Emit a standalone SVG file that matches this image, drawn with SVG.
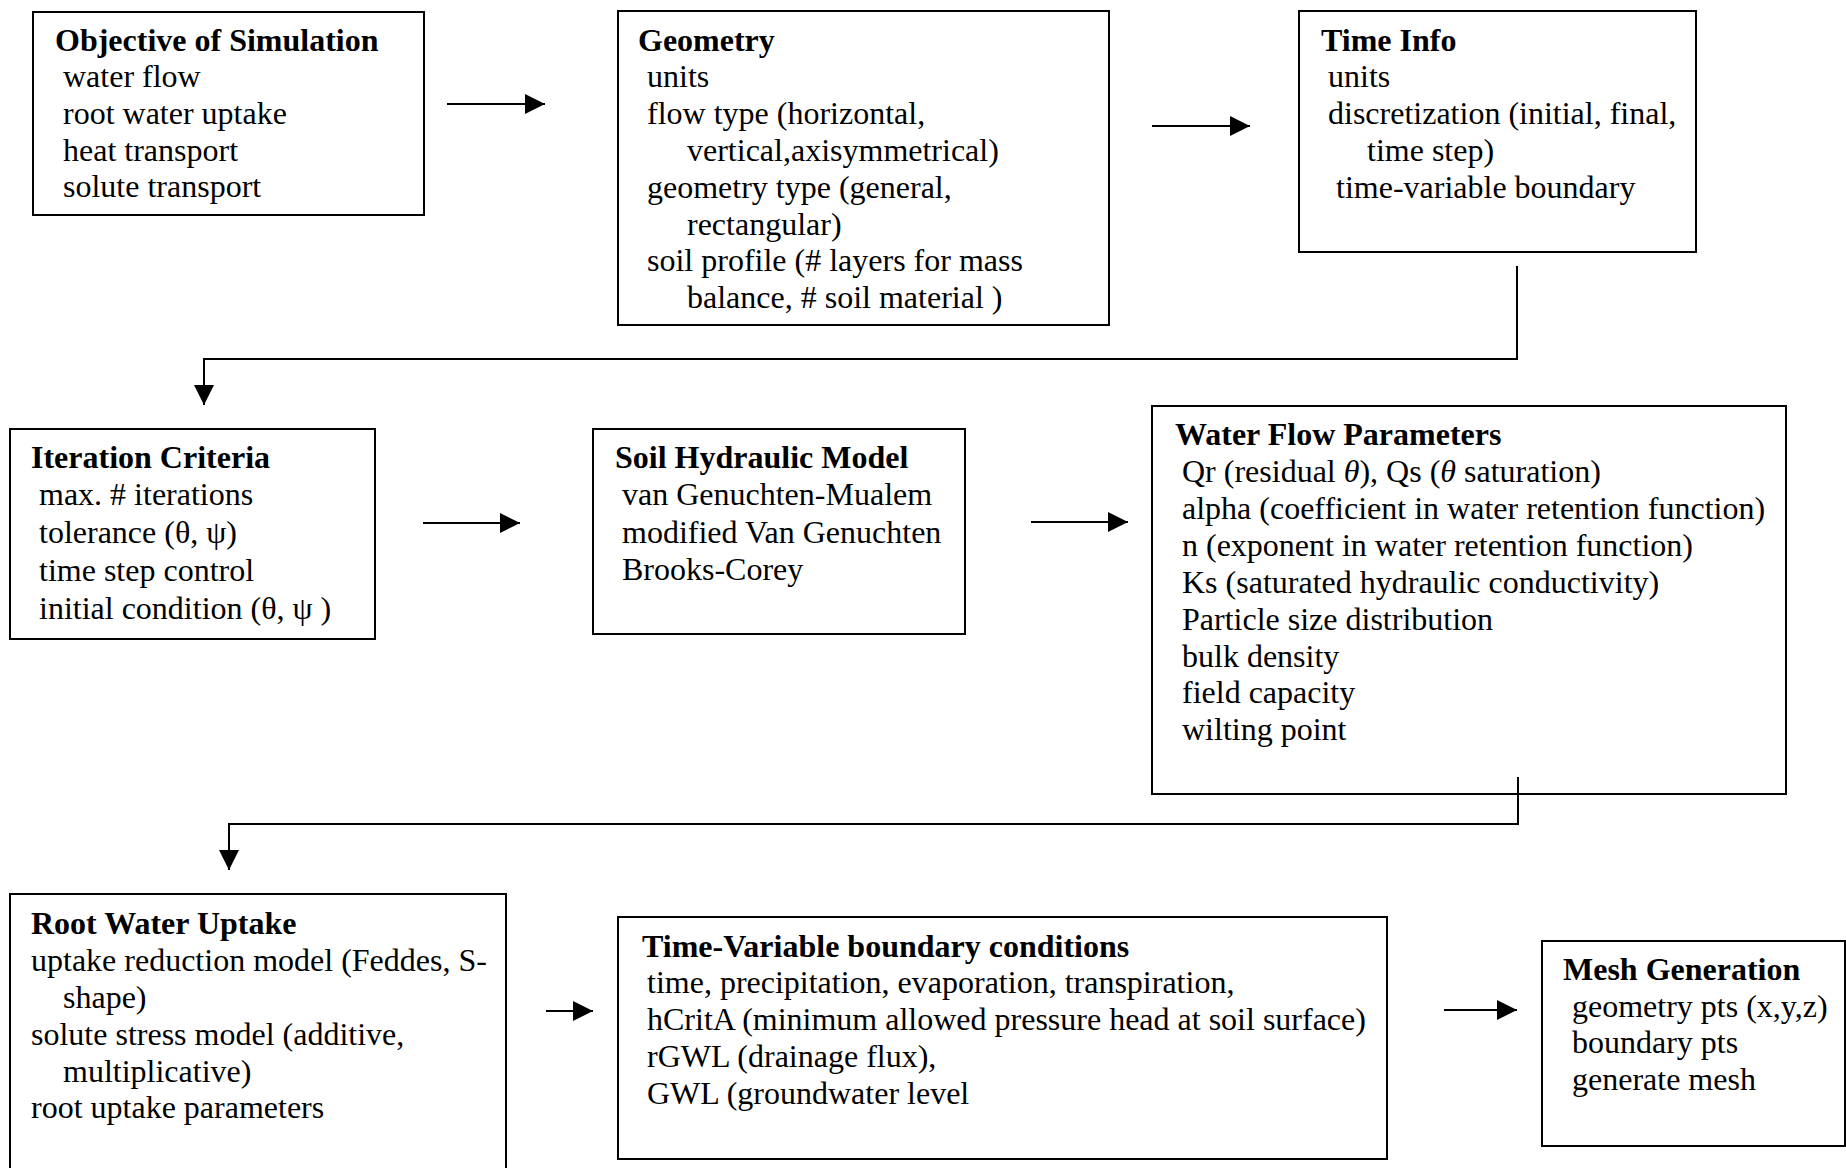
<svg xmlns="http://www.w3.org/2000/svg" width="1846" height="1168" viewBox="0 0 1846 1168">
<style>
.box{fill:#fff;stroke:#000;stroke-width:2}
text{font-family:"Liberation Serif","Times New Roman",serif;font-size:32px;fill:#000}
.t{font-weight:bold}
.c{fill:none;stroke:#000;stroke-width:2}
</style>
<defs>
<marker id="ah" markerUnits="userSpaceOnUse" markerWidth="20" markerHeight="20" refX="20" refY="10" orient="auto">
<path d="M0,0 L20,10 L0,20 z" fill="#000"/>
</marker>
</defs>
<rect width="1846" height="1168" fill="#fff"/>
<g id="objective">
<rect class="box" x="33" y="12" width="391" height="203"/>
<text class="t" x="55" y="51">Objective of Simulation</text>
<text x="63" y="87">water flow</text>
<text x="63" y="124">root water uptake</text>
<text x="63" y="161">heat transport</text>
<text x="63" y="197">solute transport</text>
</g>
<g id="geometry">
<rect class="box" x="618" y="11" width="491" height="314"/>
<text class="t" x="638" y="51">Geometry</text>
<text x="647" y="87">units</text>
<text x="647" y="124">flow type (horizontal,</text>
<text x="687" y="161">vertical,axisymmetrical)</text>
<text x="647" y="198">geometry type (general,</text>
<text x="687" y="235">rectangular)</text>
<text x="647" y="271">soil profile (# layers for mass</text>
<text x="687" y="308">balance, # soil material )</text>
</g>
<g id="timeinfo">
<rect class="box" x="1299" y="11" width="397" height="241"/>
<text class="t" x="1321" y="51">Time Info</text>
<text x="1328" y="87">units</text>
<text x="1328" y="124">discretization (initial, final,</text>
<text x="1367" y="161">time step)</text>
<text x="1336" y="198">time-variable boundary</text>
</g>
<g id="iteration">
<rect class="box" x="10" y="429" width="365" height="210"/>
<text class="t" x="31" y="468">Iteration Criteria</text>
<text x="39" y="505">max. # iterations</text>
<text x="39" y="543">tolerance (θ, ψ)</text>
<text x="39" y="581">time step control</text>
<text x="39" y="619">initial condition (θ, ψ )</text>
</g>
<g id="soilhydraulic">
<rect class="box" x="593" y="429" width="372" height="205"/>
<text class="t" x="615" y="468">Soil Hydraulic Model</text>
<text x="622" y="505">van Genuchten-Mualem</text>
<text x="622" y="543">modified Van Genuchten</text>
<text x="622" y="580">Brooks-Corey</text>
</g>
<g id="waterflow">
<rect class="box" x="1152" y="406" width="634" height="388"/>
<text class="t" x="1175" y="445">Water Flow Parameters</text>
<text x="1182" y="482">Qr (residual <tspan font-style="italic">θ</tspan>), Qs (<tspan font-style="italic">θ</tspan> saturation)</text>
<text x="1182" y="519">alpha (coefficient in water retention function)</text>
<text x="1182" y="556">n (exponent in water retention function)</text>
<text x="1182" y="593">Ks (saturated hydraulic conductivity)</text>
<text x="1182" y="630">Particle size distribution</text>
<text x="1182" y="667">bulk density</text>
<text x="1182" y="703">field capacity</text>
<text x="1182" y="740">wilting point</text>
</g>
<g id="rootwater">
<rect class="box" x="10" y="894" width="496" height="290"/>
<text class="t" x="31" y="934">Root Water Uptake</text>
<text x="31" y="971">uptake reduction model (Feddes, S-</text>
<text x="63" y="1008">shape)</text>
<text x="31" y="1045">solute stress model (additive,</text>
<text x="63" y="1082">multiplicative)</text>
<text x="31" y="1118">root uptake parameters</text>
</g>
<g id="timevariable">
<rect class="box" x="618" y="917" width="769" height="242"/>
<text class="t" x="642" y="957">Time-Variable boundary conditions</text>
<text x="647" y="993">time, precipitation, evaporation, transpiration,</text>
<text x="647" y="1030">hCritA (minimum allowed pressure head at soil surface)</text>
<text x="647" y="1067">rGWL (drainage flux),</text>
<text x="647" y="1104">GWL (groundwater level</text>
</g>
<g id="mesh">
<rect class="box" x="1542" y="941" width="303" height="205"/>
<text class="t" x="1563" y="980">Mesh Generation</text>
<text x="1572" y="1017">geometry pts (x,y,z)</text>
<text x="1572" y="1053">boundary pts</text>
<text x="1572" y="1090">generate mesh</text>
</g>
<g id="connectors">
<line class="c" x1="447" y1="104" x2="545" y2="104" marker-end="url(#ah)"/>
<line class="c" x1="1152" y1="126" x2="1250" y2="126" marker-end="url(#ah)"/>
<polyline class="c" points="1517,266 1517,359 204,359 204,405" marker-end="url(#ah)"/>
<line class="c" x1="423" y1="523" x2="520" y2="523" marker-end="url(#ah)"/>
<line class="c" x1="1031" y1="522" x2="1128" y2="522" marker-end="url(#ah)"/>
<polyline class="c" points="1518,777 1518,824 229,824 229,870" marker-end="url(#ah)"/>
<line class="c" x1="546" y1="1011" x2="593" y2="1011" marker-end="url(#ah)"/>
<line class="c" x1="1444" y1="1010" x2="1517" y2="1010" marker-end="url(#ah)"/>
</g>
</svg>
